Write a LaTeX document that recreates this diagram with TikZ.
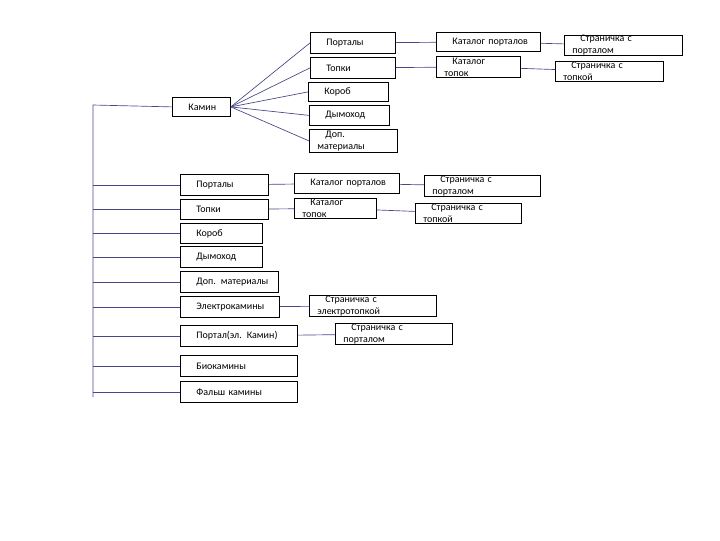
\documentclass[tikz,border=0pt]{standalone}
\usepackage{fontspec}
\setmainfont{Carlito}
\begin{document}
\begin{tikzpicture}[x=0.75pt,y=-0.75pt,
  ln/.style={draw=black!40!blue!45!gray,line width=0.5pt},
  bx/.style={draw=black,line width=0.6pt,inner sep=0pt,font=\fontsize{7.5}{9}\selectfont}]
\useasboundingbox (0,0) rectangle (720,540);
\newcommand\bx[6]{%
  \pgfmathsetmacro\bw{(#4-#2)*0.75}\pgfmathsetmacro\bh{(#5-#3)*0.75}%
  \node[bx,anchor=north west,minimum width=\bw pt,minimum height=\bh pt,
    text width=\bw pt-12pt,align=left] (#1) at (#2,#3) {\hspace*{6pt}#6};}
% top group
\bx{kam}{172}{97}{230}{116}{Камин}
\bx{p1}{310}{32}{395}{53}{Порталы}
\bx{t1}{310}{57}{395}{78}{Топки}
\bx{k1}{308}{82}{388}{101}{Короб}
\bx{d1}{309}{105}{389}{125}{Дымоход}
\bx{m1}{309}{129}{397}{152}{Доп. материалы}
\bx{kp1}{436}{32}{540}{51}{Каталог порталов}
\bx{kt1}{436}{56}{520}{77}{Каталог топок}
\bx{sp1}{564}{35}{682}{53}{Страничка с порталом}
\bx{st1}{555}{61}{663}{81}{Страничка с топкой}
% lower group
\bx{p2}{180}{174}{268}{195}{Порталы}
\bx{t2}{180}{199}{268}{219}{Топки}
\bx{k2}{180}{223}{262}{243}{Короб}
\bx{d2}{180}{246}{262}{267}{Дымоход}
\bx{m2}{180}{271}{278}{292}{Доп. материалы}
\bx{e2}{180}{296}{279}{317}{Электрокамины}
\bx{pe2}{180}{325}{297}{346}{Портал(эл. Камин)}
\bx{b2}{180}{355}{297}{376}{Биокамины}
\bx{f2}{180}{381}{297}{402}{Фальш камины}
\bx{kp2}{294}{173}{399}{193}{Каталог порталов}
\bx{kt2}{294}{198}{376}{218}{Каталог топок}
\bx{sp2}{424}{175}{540}{196}{Страничка с порталом}
\bx{st2}{415}{203}{521}{223}{Страничка с топкой}
\bx{se2}{309}{295}{436}{316}{Страничка с электротопкой}
\bx{spe2}{335}{323}{452}{344}{Страничка с порталом}
% trunk
\coordinate (top) at (93,105);
\coordinate (bot) at (93,397);
\draw[ln] (kam.west) -- (top) -- (bot);
\foreach \n in {p2,t2,k2,d2,m2,e2,pe2,b2,f2}
  \draw[ln] (\n.west) -- (\n.west -| top);
\foreach \n in {p1,t1,k1,d1,m1}
  \draw[ln] (kam.east) -- (\n.west);
\draw[ln] (p1) -- (kp1); \draw[ln] (t1) -- (kt1);
\draw[ln] (kp1) -- (sp1); \draw[ln] (kt1) -- (st1);
\draw[ln] (p2) -- (kp2); \draw[ln] (t2) -- (kt2);
\draw[ln] (kp2) -- (sp2); \draw[ln] (kt2) -- (st2);
\draw[ln] (e2) -- (se2); \draw[ln] (pe2) -- (spe2);
\end{tikzpicture}
\end{document}
